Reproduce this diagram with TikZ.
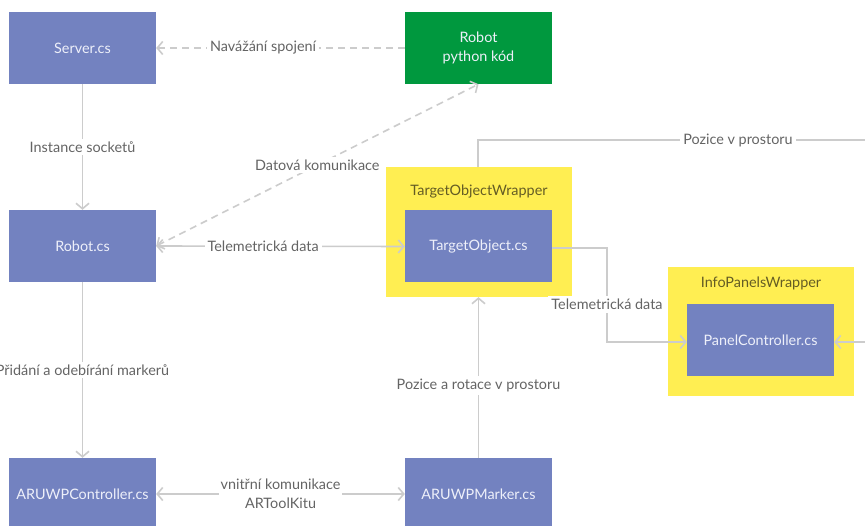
\documentclass[tikz,border=0pt]{standalone}
\usepackage{fontspec}
\setmainfont{Lato}
\usetikzlibrary{arrows.meta}
\definecolor{boxblue}{RGB}{115,130,192}
\definecolor{boxgreen}{RGB}{0,152,62}
\definecolor{wrapyellow}{RGB}{255,238,82}
\definecolor{wraptext}{RGB}{100,92,36}
\definecolor{linegrey}{RGB}{204,204,204}
\definecolor{labelgrey}{RGB}{100,100,100}
\definecolor{boxtext}{RGB}{238,240,250}
\tikzset{
  cls/.style={rectangle, fill=boxblue, minimum width=147pt, minimum height=72pt,
    text=boxtext, font=\fontsize{14.4}{19}\selectfont, align=center, inner sep=0pt},
  pyclass/.style={cls, fill=boxgreen},
  wrapper/.style={rectangle, fill=wrapyellow, minimum width=186pt, minimum height=130pt, inner sep=0pt},
  wraptitle/.style={text=wraptext, font=\fontsize{14.4}{19}\selectfont, inner sep=0pt},
  conn/.style={draw=linegrey, line width=1.6pt},
  tip/.style={-{Straight Barb[length=5.5pt,width=13pt,line width=1.6pt]}},
  bitip/.style={{Straight Barb[length=5.5pt,width=13pt,line width=1.6pt]}-{Straight Barb[length=5.5pt,width=13pt,line width=1.6pt]}},
  dashline/.style={dash pattern=on 7pt off 5pt},
  lbl/.style={fill=white, text=labelgrey, font=\fontsize{14.4}{19}\selectfont, inner sep=3pt, align=center}
}
\begin{document}
\begin{tikzpicture}[x=1pt,y=-1pt]
  \useasboundingbox (0,0) rectangle (865,526);
  \clip (0,0) rectangle (865,526);
  \fill[white] (0,0) rectangle (865,526);

  % wrappers
  \node[wrapper] (tow) at (479,232) {};
  \node[wraptitle] (towt) at (479,192) {TargetObjectWrapper};
  \node[wrapper, minimum height=129pt] (ipw) at (761,331.5) {};
  \node[wraptitle] (ipwt) at (761,283) {InfoPanelsWrapper};

  % classes
  \node[cls] (server) at (82.5,48) {Server.cs};
  \node[pyclass] (robotpy) at (478.5,48) {Robot\\python kód};
  \node[cls] (robot) at (82.5,246) {Robot.cs};
  \node[cls] (target) at (478.5,246.5) {TargetObject.cs};
  \node[cls] (panel) at (760.5,340.5) {PanelController.cs};
  \node[cls] (arc) at (82.5,494) {ARUWPController.cs};
  \node[cls] (arm) at (478.5,494) {ARUWPMarker.cs};

  % free ends at the right border
  \coordinate (topbend) at (478,140);
  \coordinate (rightend) at (866,140);
  \coordinate (panelin) at (866,342);
  \coordinate (tbend1) at (607,248);
  \coordinate (tbend2) at (607,342);

  % connectors
  \draw[conn, tip, dashline] (robotpy.west) -- node[lbl, pos=0.57] {Navážání spojení} (server.east);
  \draw[conn, tip] (server.south) -- node[lbl] {Instance socketů} (robot.north);
  \draw[conn, bitip, dashline] (robot.east) -- node[lbl] {Datová komunikace} (robotpy.south);
  \draw[conn, bitip] (robot.east) -- node[lbl, pos=0.43] {Telemetrická data} (target.west);
  \draw[conn] (tow.north -| topbend) -- (topbend) -- node[lbl, pos=0.67] {Pozice v prostoru} (rightend);
  \draw[conn, tip] (target.east |- tbend1) -- (tbend1) -- node[lbl, pos=0.6] {Telemetrická data} (tbend2) -- (panel.west |- tbend2);
  \draw[conn, tip] (panelin) -- (panel.east |- panelin);
  \draw[conn, tip] (arm.north) -- node[lbl, pos=0.45] {Pozice a rotace v prostoru} (tow.south -| arm.north);
  \draw[conn, tip] (robot.south) -- node[lbl, pos=0.5] {Přidání a odebírání markerů} (arc.north);
  \draw[conn, bitip] (arc.east) -- node[lbl, inner sep=2pt] {vnitřní komunikace\\ARToolKitu} (arm.west);
\end{tikzpicture}
\end{document}
